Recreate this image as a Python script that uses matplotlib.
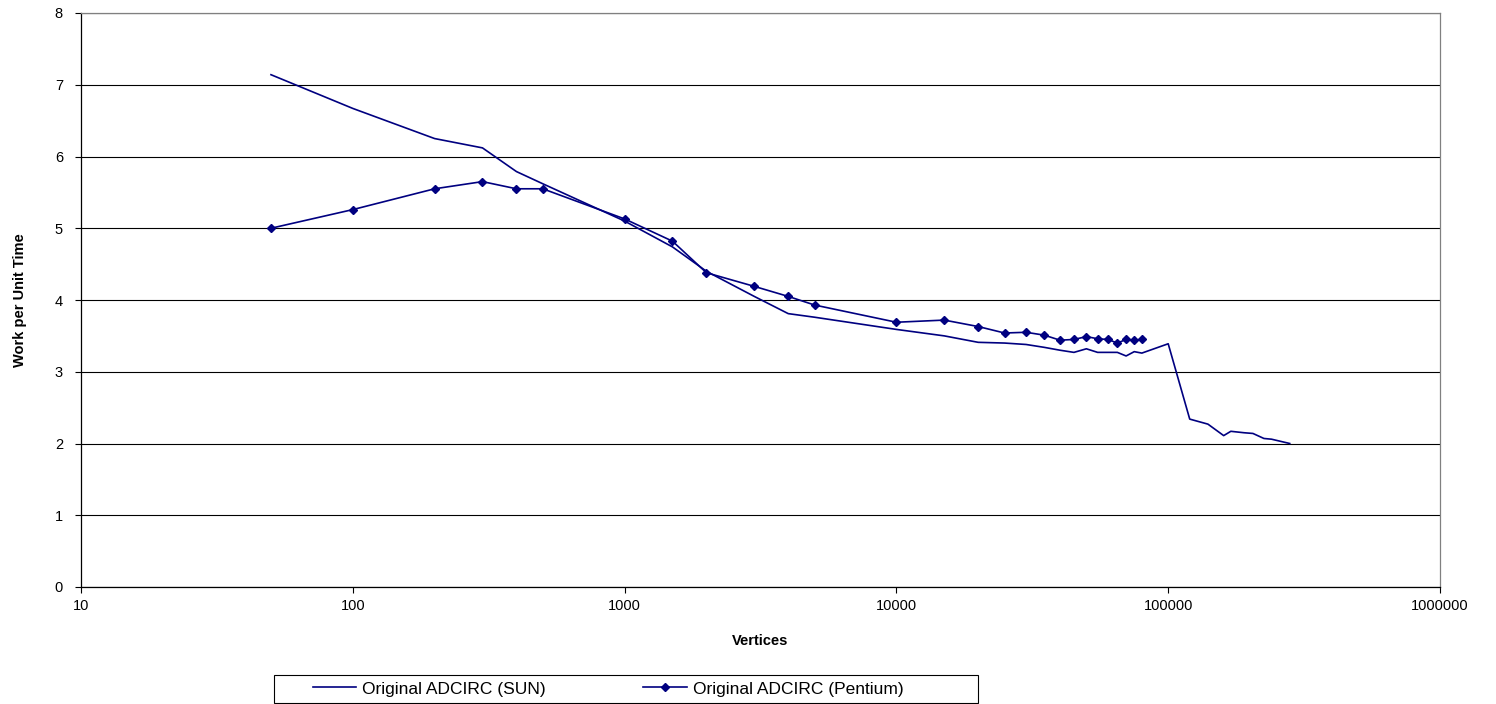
import matplotlib
matplotlib.use("Agg")
import matplotlib.pyplot as plt
from matplotlib.patches import Rectangle
from matplotlib.ticker import FixedLocator, NullLocator

plt.rcParams["font.family"] = ["Liberation Sans", "DejaVu Sans"]

# Original ADCIRC on the SUN machine
sun_vertices = [50, 100, 200, 300, 400, 500, 1000, 1500, 2000, 3000, 4000, 5000,
                10000, 15000, 20000, 25000, 30000, 35000, 40000, 45000, 50000,
                55000, 60000, 65000, 70000, 75000, 80000, 100000, 120000,
                140000, 160000, 170000, 190000, 205000, 225000, 240000, 280000]
sun_work = [7.14, 6.67, 6.25, 6.12, 5.79, 5.62, 5.10, 4.74, 4.40, 4.05, 3.81, 3.76,
            3.59, 3.50, 3.41, 3.40, 3.38, 3.34, 3.30, 3.27, 3.32,
            3.27, 3.27, 3.27, 3.22, 3.28, 3.26, 3.39, 2.34,
            2.27, 2.11, 2.17, 2.15, 2.14, 2.07, 2.06, 2.00]

# Original ADCIRC on the Pentium machine
pen_vertices = [50, 100, 200, 300, 400, 500, 1000, 1500, 2000, 3000, 4000, 5000,
                10000, 15000, 20000, 25000, 30000, 35000, 40000, 45000, 50000,
                55000, 60000, 65000, 70000, 75000, 80000]
pen_work = [5.00, 5.26, 5.55, 5.65, 5.55, 5.55, 5.13, 4.82, 4.38, 4.19, 4.05, 3.93,
            3.69, 3.72, 3.63, 3.54, 3.55, 3.51, 3.44, 3.45, 3.49,
            3.46, 3.45, 3.40, 3.45, 3.44, 3.45]

x_ticks = [10, 100, 1000, 10000, 100000, 1000000]
x_tick_labels = ["10", "100", "1000", "10000", "100000", "1000000"]
y_ticks = [0, 1, 2, 3, 4, 5, 6, 7, 8]

W, H = 1496, 704
fig = plt.figure(figsize=(W / 100, H / 100), dpi=100)
ax = fig.add_axes([81 / W, 1 - 587 / H, (1440 - 81) / W, (587 - 13) / H])

navy = "#000080"
ax.plot(sun_vertices, sun_work, color=navy, lw=1.2, label="Original ADCIRC (SUN)")
ax.plot(pen_vertices, pen_work, color=navy, lw=1.2, marker="D", markersize=4.2,
        label="Original ADCIRC (Pentium)")

ax.set_xscale("log")
ax.set_xlim(10, 1000000)
ax.set_ylim(0, 8)
ax.xaxis.set_major_locator(FixedLocator(x_ticks))
ax.xaxis.set_minor_locator(NullLocator())
ax.set_xticklabels(x_tick_labels)
ax.set_yticks(y_ticks)

ax.yaxis.grid(True, color="black", lw=0.8)
ax.set_axisbelow(True)
for side in ("top", "right"):
    ax.spines[side].set_color("#808080")
    ax.spines[side].set_linewidth(0.9)
for side in ("left", "bottom"):
    ax.spines[side].set_color("black")
    ax.spines[side].set_linewidth(0.9)

ax.tick_params(axis="both", direction="out", length=4, width=0.8, labelsize=10.5,
               colors="black")
ax.tick_params(axis="x", pad=5)
ax.tick_params(axis="y", pad=9)

ax.set_xlabel("Vertices", fontsize=10.5, fontweight="bold", labelpad=15)
ax.set_ylabel("Work per Unit Time", fontsize=10.5, fontweight="bold", labelpad=20)

# Legend entries without their own frame; a separate box is drawn around them
leg = fig.legend(loc="center left", bbox_to_anchor=(313 / W, 1 - 689 / H),
                 ncol=2, fontsize=12.5, frameon=False,
                 handlelength=2.5, handletextpad=0.35, columnspacing=5.6,
                 borderpad=0.0, borderaxespad=0.0)
fig.patches.append(Rectangle((274 / W, 1 - 703 / H), (978 - 274) / W, (703 - 675) / H,
                             transform=fig.transFigure, fill=False,
                             edgecolor="black", lw=0.8))

fig.savefig("out.png", dpi=100, facecolor="white")
